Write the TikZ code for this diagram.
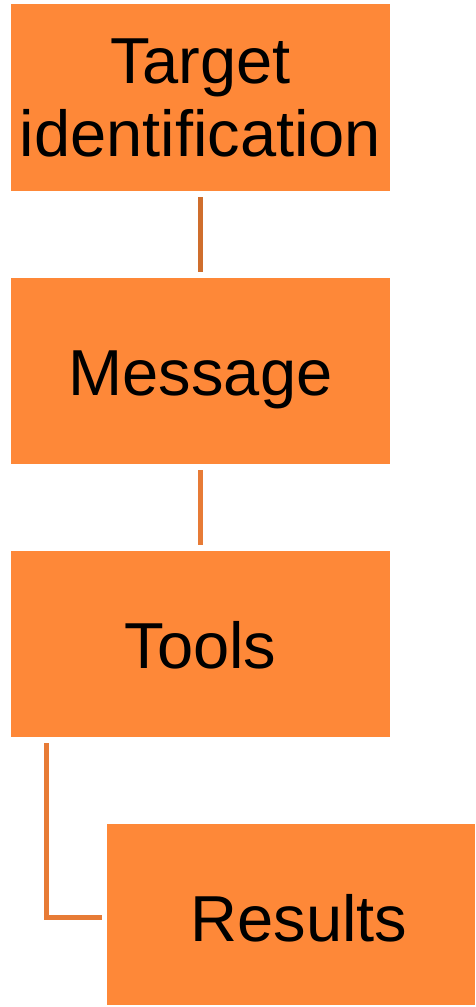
\documentclass[tikz,border=0pt]{standalone}
\usepackage{fontspec}
\setmainfont{Liberation Sans}
\usepackage{xcolor}
\usepackage{tikz}
\usetikzlibrary{positioning, calc}

\definecolor{boxorange}{HTML}{FE8838}
\definecolor{linedark}{HTML}{CF6E2D}
\definecolor{lineorange}{HTML}{E77B36}

\begin{document}
\begin{tikzpicture}[
    x=1pt, y=-1pt,
    stage/.style={fill=boxorange, inner sep=0pt, align=center, font=\fontsize{65}{73}\selectfont},
    oneline/.style={stage, text height=48pt, text depth=0pt},
    link/.style={line width=5pt, lineorange, shorten <=6pt, shorten >=6pt}
]
\useasboundingbox (0,0) rectangle (475,1007);

% Stages
\node[stage, minimum width=379pt, minimum height=187pt] (target) at (200.5,97.5) {Target\\identification};
\node[oneline, minimum width=379pt, minimum height=186pt] (message) at (200.5,371) {Message};
\node[oneline, minimum width=379pt, minimum height=186pt] (tools) at (200.5,644) {Tools};
\node[oneline, text height=53pt, minimum width=368pt, minimum height=181pt] (results) at (291,914.5) {\hspace*{16pt}Results};

% Connectors
\draw[link, linedark] (target.south) -- (message.north);
\draw[link] (message.south) -- (tools.north);
\draw[link, shorten >=5pt] ([xshift=36pt]tools.south west) |- ([yshift=-3pt]results.west);

\end{tikzpicture}
\end{document}
